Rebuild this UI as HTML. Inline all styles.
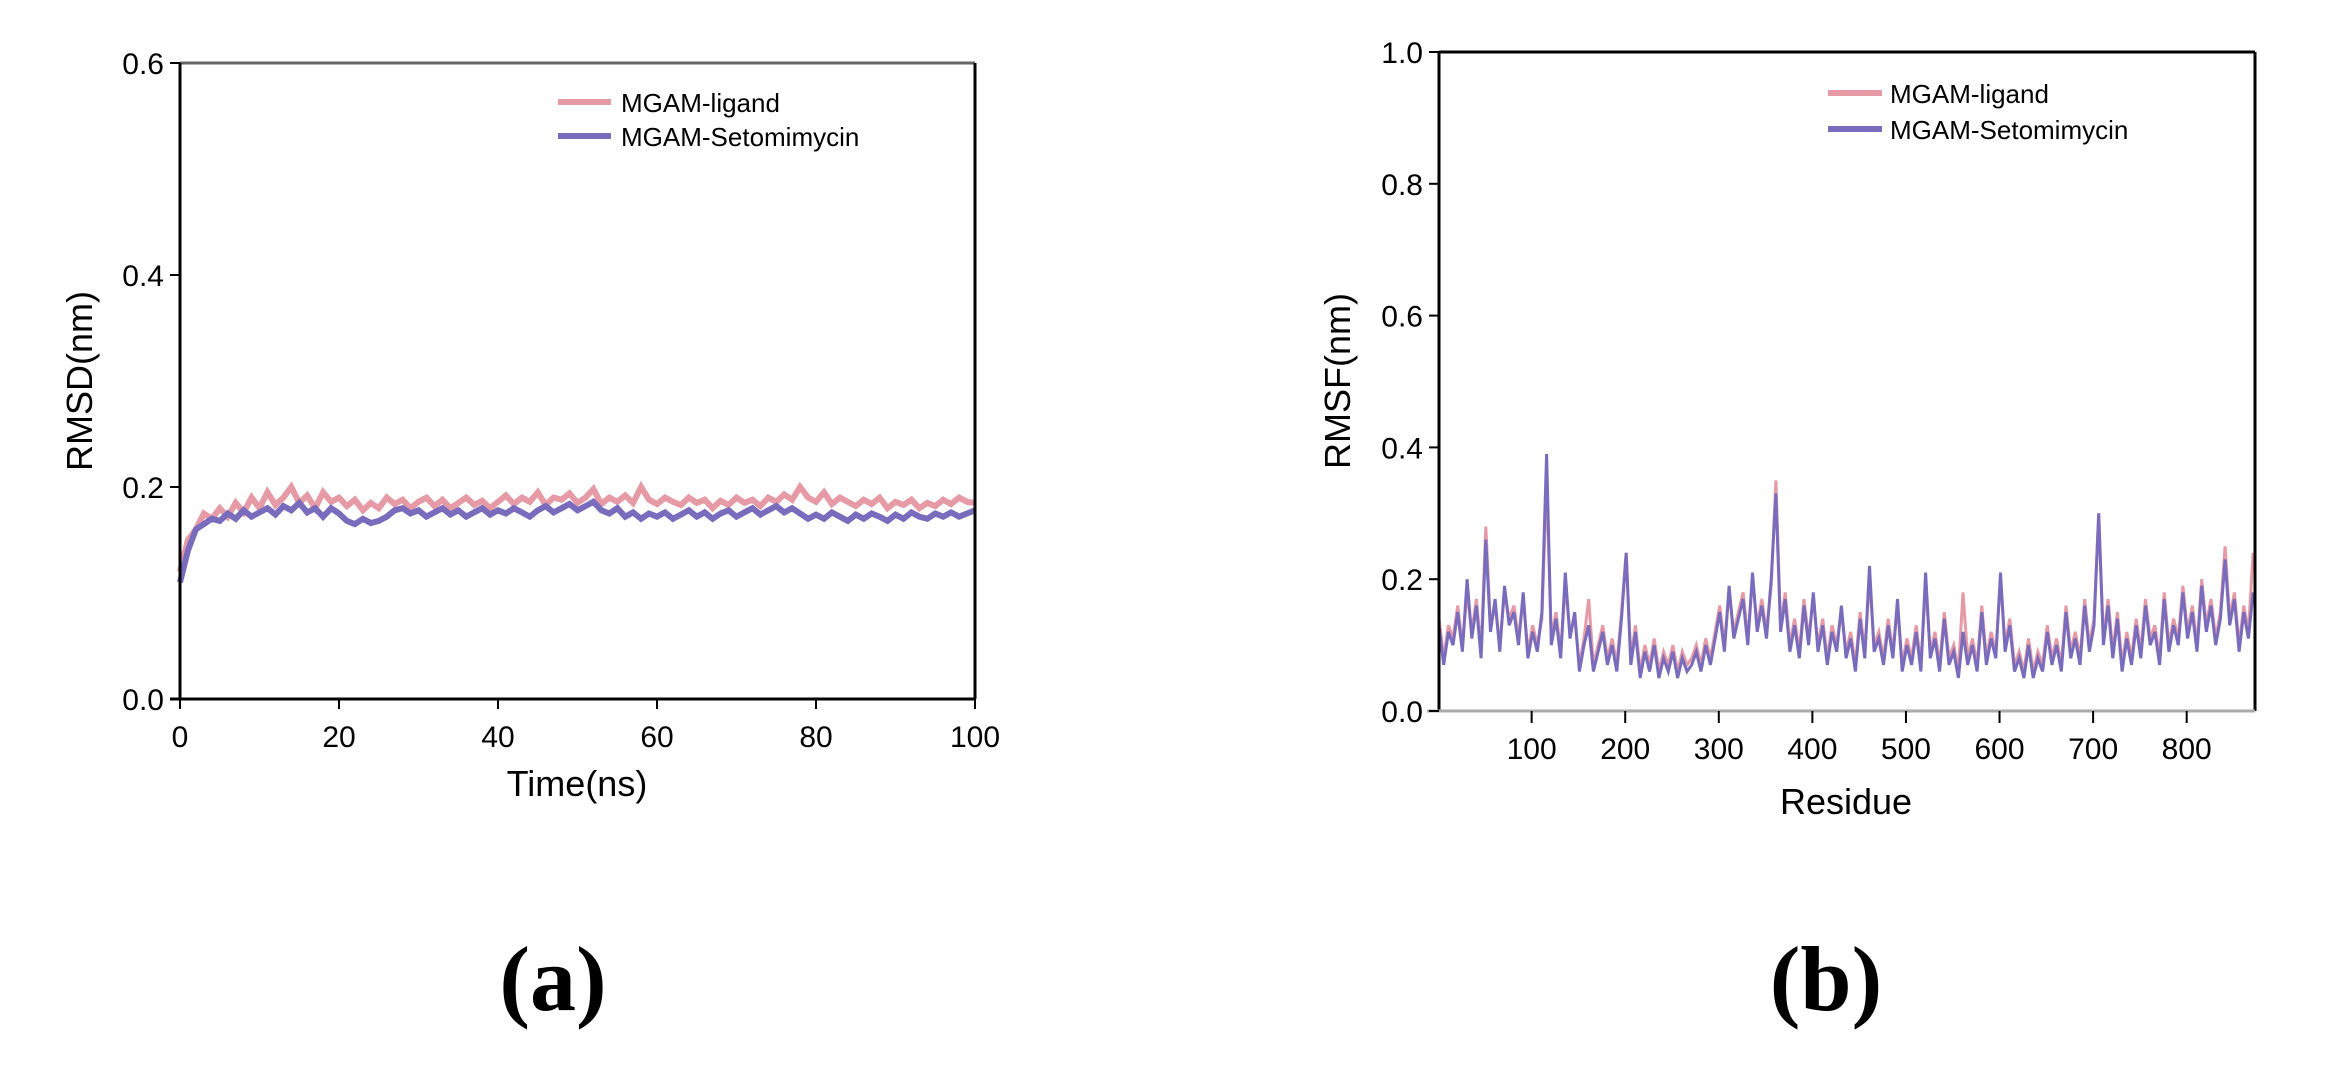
<!DOCTYPE html>
<html><head><meta charset="utf-8"><style>
html,body{margin:0;padding:0;background:#fff;}
svg{display:block;font-family:"Liberation Sans",sans-serif;}
</style></head><body>
<svg id="fig" width="2346" height="1068" viewBox="0 0 2346 1068"></svg>
<script>
// ---- Panel (a) RMSD data ----
const rmsdTimeStep = 1; // ns between samples
const rmsdLigand = [0.12,0.15,0.16,0.175,0.17,0.18,0.172,0.185,0.176,0.19,0.18,0.195,0.183,0.19,0.2,0.185,0.192,0.18,0.195,0.186,0.19,0.182,0.188,0.178,0.185,0.18,0.19,0.184,0.188,0.18,0.186,0.19,0.182,0.188,0.18,0.185,0.19,0.183,0.187,0.18,0.186,0.192,0.184,0.19,0.186,0.195,0.183,0.19,0.188,0.194,0.185,0.19,0.198,0.184,0.19,0.186,0.192,0.185,0.2,0.188,0.184,0.19,0.186,0.183,0.19,0.185,0.188,0.18,0.187,0.183,0.19,0.185,0.188,0.182,0.19,0.186,0.193,0.188,0.2,0.19,0.186,0.195,0.184,0.19,0.186,0.182,0.188,0.184,0.19,0.18,0.186,0.183,0.188,0.18,0.185,0.182,0.188,0.184,0.19,0.186,0.185];
const rmsdSeto = [0.11,0.14,0.16,0.165,0.17,0.168,0.175,0.17,0.178,0.172,0.176,0.18,0.174,0.182,0.178,0.185,0.176,0.18,0.172,0.18,0.175,0.168,0.165,0.17,0.166,0.168,0.172,0.178,0.18,0.175,0.178,0.172,0.176,0.18,0.174,0.178,0.172,0.176,0.18,0.174,0.178,0.175,0.18,0.176,0.172,0.178,0.182,0.176,0.18,0.184,0.178,0.182,0.186,0.178,0.175,0.18,0.172,0.176,0.17,0.175,0.172,0.176,0.17,0.174,0.178,0.172,0.176,0.17,0.175,0.178,0.172,0.176,0.18,0.174,0.178,0.182,0.176,0.18,0.175,0.17,0.174,0.17,0.176,0.172,0.168,0.174,0.17,0.175,0.172,0.168,0.174,0.17,0.176,0.172,0.17,0.175,0.172,0.176,0.172,0.175,0.178];
const rmsdXTicks = [0,20,40,60,80,100];
const rmsdYTicks = ["0.0","0.2","0.4","0.6"];

// ---- Panel (b) RMSF data ----
const rmsfResStart = 1, rmsfResStep = 5;
const rmsfSeto = [0.13,0.07,0.12,0.10,0.15,0.09,0.20,0.11,0.16,0.08,0.26,0.12,0.17,0.09,0.19,0.13,0.15,0.10,0.18,0.08,
0.12,0.09,0.15,0.39,0.10,0.14,0.08,0.21,0.11,0.15,0.06,0.10,0.13,0.06,0.09,0.12,0.07,0.10,0.06,0.14,
0.24,0.07,0.12,0.05,0.09,0.06,0.10,0.05,0.08,0.06,0.09,0.05,0.08,0.06,0.07,0.09,0.06,0.10,0.07,0.11,
0.15,0.09,0.19,0.11,0.14,0.17,0.10,0.21,0.12,0.16,0.11,0.20,0.33,0.12,0.17,0.09,0.13,0.08,0.16,0.10,
0.18,0.09,0.13,0.07,0.12,0.09,0.16,0.08,0.11,0.06,0.14,0.08,0.22,0.09,0.11,0.07,0.13,0.08,0.17,0.06,
0.10,0.07,0.12,0.06,0.21,0.08,0.11,0.06,0.14,0.07,0.09,0.05,0.12,0.07,0.10,0.06,0.15,0.07,0.11,0.08,
0.21,0.09,0.13,0.06,0.08,0.05,0.10,0.05,0.08,0.06,0.12,0.07,0.10,0.06,0.15,0.08,0.11,0.07,0.16,0.09,
0.13,0.30,0.10,0.16,0.08,0.14,0.06,0.11,0.07,0.13,0.08,0.16,0.10,0.12,0.07,0.17,0.09,0.13,0.10,0.18,
0.11,0.15,0.09,0.19,0.12,0.16,0.10,0.14,0.23,0.13,0.17,0.09,0.15,0.11,0.18];
const rmsfLigand = [0.14,0.08,0.13,0.11,0.16,0.10,0.18,0.12,0.17,0.09,0.28,0.13,0.16,0.10,0.18,0.14,0.16,0.11,0.17,0.09,
0.13,0.10,0.14,0.35,0.11,0.15,0.09,0.19,0.12,0.14,0.07,0.11,0.17,0.07,0.10,0.13,0.08,0.11,0.07,0.15,
0.24,0.08,0.13,0.06,0.10,0.07,0.11,0.06,0.09,0.07,0.10,0.06,0.09,0.07,0.08,0.10,0.07,0.11,0.08,0.12,
0.16,0.10,0.18,0.12,0.15,0.18,0.11,0.20,0.13,0.17,0.12,0.19,0.35,0.13,0.18,0.10,0.14,0.09,0.17,0.11,
0.17,0.10,0.14,0.08,0.13,0.10,0.15,0.09,0.12,0.07,0.15,0.09,0.20,0.10,0.12,0.08,0.14,0.09,0.16,0.07,
0.11,0.08,0.13,0.07,0.19,0.09,0.12,0.07,0.15,0.08,0.10,0.06,0.18,0.08,0.11,0.07,0.16,0.08,0.12,0.09,
0.20,0.10,0.14,0.07,0.09,0.06,0.11,0.06,0.09,0.07,0.13,0.08,0.11,0.07,0.16,0.09,0.12,0.08,0.17,0.10,
0.14,0.30,0.11,0.17,0.09,0.15,0.07,0.12,0.08,0.14,0.09,0.17,0.11,0.13,0.08,0.18,0.10,0.14,0.11,0.19,
0.12,0.16,0.10,0.20,0.13,0.17,0.11,0.15,0.25,0.14,0.18,0.10,0.16,0.12,0.24];
const rmsfXTicks = [100,200,300,400,500,600,700,800];
const rmsfYTicks = ["0.0","0.2","0.4","0.6","0.8","1.0"];

const NS="http://www.w3.org/2000/svg";
const svg=document.getElementById('fig');
function mk(tag,attrs,parent){const e=document.createElementNS(NS,tag);for(const k in attrs)e.setAttribute(k,attrs[k]);(parent||svg).appendChild(e);return e;}
const PINK="#e59aa5", PURPLE="#7a6cbd";

const A={x0:180,x1:975,y0:699,y1:63,xmin:0,xmax:100,ymin:0,ymax:0.6};
const ax=v=>A.x0+(v-A.xmin)/(A.xmax-A.xmin)*(A.x1-A.x0);
const ay=v=>A.y0-(v-A.ymin)/(A.ymax-A.ymin)*(A.y0-A.y1);
const B={x0:1439,x1:2255,y0:711,y1:52,xmin:1,xmax:873,ymin:0,ymax:1.0};
const bx=v=>B.x0+(v-B.xmin)/(B.xmax-B.xmin)*(B.x1-B.x0);
const by=v=>B.y0-(v-B.ymin)/(B.ymax-B.ymin)*(B.y0-B.y1);

function series(vals,xf,yf,xOf,color,name,parent,w){
  const pts=vals.map((v,i)=>xf(xOf(i)).toFixed(1)+","+yf(v).toFixed(1)).join(" ");
  const p=mk('polyline',{points:pts,fill:"none",stroke:color,"stroke-width":w,"stroke-linejoin":"miter"},parent);
  
  
}

// ---------- Panel A ----------
const gA=mk('g',{});


series(rmsdLigand,ax,ay,i=>i*rmsdTimeStep,PINK,'rmsd-ligand-line',gA,6);
series(rmsdSeto,ax,ay,i=>i*rmsdTimeStep,PURPLE,'rmsd-setomimycin-line',gA,6);
mk('line',{x1:A.x0,y1:A.y1,x2:A.x1,y2:A.y1,stroke:"#666","stroke-width":3},gA);
mk('line',{x1:A.x1,y1:A.y1,x2:A.x1,y2:A.y0,stroke:"#000","stroke-width":3},gA);
mk('line',{x1:A.x0,y1:A.y1,x2:A.x0,y2:A.y0,stroke:"#000","stroke-width":3},gA);
mk('line',{x1:A.x0-10,y1:A.y0,x2:A.x1,y2:A.y0,stroke:"#000","stroke-width":3},gA);
rmsdYTicks.forEach(t=>{const y=ay(parseFloat(t));
  mk('line',{x1:A.x0-10,y1:y,x2:A.x0,y2:y,stroke:"#000","stroke-width":2},gA);
  const tx=mk('text',{x:A.x0-16,y:y+11,"text-anchor":"end","font-size":30},gA);tx.textContent=t;
  
  });
rmsdXTicks.forEach(t=>{const x=ax(t);
  mk('line',{x1:x,y1:A.y0,x2:x,y2:A.y0+10,stroke:"#000","stroke-width":2},gA);
  const tx=mk('text',{x:x,y:A.y0+48,"text-anchor":"middle","font-size":30},gA);tx.textContent=t;
  
  });

// ---------- Panel B ----------
const gB=mk('g',{});


series(rmsfLigand,bx,by,i=>rmsfResStart+i*rmsfResStep,PINK,'rmsf-ligand-line',gB,3);
series(rmsfSeto,bx,by,i=>rmsfResStart+i*rmsfResStep,PURPLE,'rmsf-setomimycin-line',gB,3);
mk('line',{x1:B.x0,y1:B.y1,x2:B.x1,y2:B.y1,stroke:"#000","stroke-width":3},gB);
mk('line',{x1:B.x1,y1:B.y1,x2:B.x1,y2:B.y0,stroke:"#000","stroke-width":3},gB);
mk('line',{x1:B.x0,y1:B.y1,x2:B.x0,y2:B.y0,stroke:"#000","stroke-width":3},gB);
mk('line',{x1:B.x0-12,y1:B.y0,x2:B.x1,y2:B.y0,stroke:"#aaa","stroke-width":3},gB);
rmsfYTicks.forEach(t=>{const y=by(parseFloat(t));
  mk('line',{x1:B.x0-10,y1:y,x2:B.x0,y2:y,stroke:"#000","stroke-width":2},gB);
  const tx=mk('text',{x:B.x0-16,y:y+11,"text-anchor":"end","font-size":30},gB);tx.textContent=t;
  
  });
rmsfXTicks.forEach(t=>{const x=bx(t);
  mk('line',{x1:x,y1:B.y0,x2:x,y2:B.y0+12,stroke:"#000","stroke-width":2},gB);
  const tx=mk('text',{x:x,y:B.y0+48,"text-anchor":"middle","font-size":30},gB);tx.textContent=t;
  
  });

// ---------- static labels ----------
function t(x,y,s,size,name,extra){const e=document.createElementNS(NS,'text');e.setAttribute('x',x);e.setAttribute('y',y);e.setAttribute('font-size',size);for(const k in (extra||{}))e.setAttribute(k,extra[k]);e.textContent=s;svg.appendChild(e);
 
 return e;}
function l(x1,y1,x2,y2,c,name){const e=document.createElementNS(NS,'line');e.setAttribute('x1',x1);e.setAttribute('y1',y1);e.setAttribute('x2',x2);e.setAttribute('y2',y2);e.setAttribute('stroke',c);e.setAttribute('stroke-width',6);svg.appendChild(e);
 
 }
t(577,796,"Time(ns)",36,'rmsd-x-axis-title',{"text-anchor":"middle"});
t(0,0,"RMSD(nm)",36,'rmsd-y-axis-title',{transform:"translate(92,381) rotate(-90)","text-anchor":"middle"});
l(558,102,611,102,PINK,'legend-a-ligand-swatch');
l(558,136,611,136,PURPLE,'legend-a-setomimycin-swatch');
t(621,112,"MGAM-ligand",26,'legend-a-ligand-label');
t(621,146,"MGAM-Setomimycin",26,'legend-a-setomimycin-label');
l(1828,93,1882,93,PINK,'legend-b-ligand-swatch');
l(1828,129,1882,129,PURPLE,'legend-b-setomimycin-swatch');
t(1890,103,"MGAM-ligand",26,'legend-b-ligand-label');
t(1890,139,"MGAM-Setomimycin",26,'legend-b-setomimycin-label');
t(0,0,"RMSF(nm)",36,'rmsf-y-axis-title',{transform:"translate(1350,381) rotate(-90)","text-anchor":"middle"});
t(1846,814,"Residue",36,'rmsf-x-axis-title',{"text-anchor":"middle"});
t(553,1010,"(a)",92,'panel-a-label',{"text-anchor":"middle","font-family":"Liberation Serif, serif","font-weight":"bold"});
t(1826,1010,"(b)",92,'panel-b-label',{"text-anchor":"middle","font-family":"Liberation Serif, serif","font-weight":"bold"});
</script>
</body></html>
